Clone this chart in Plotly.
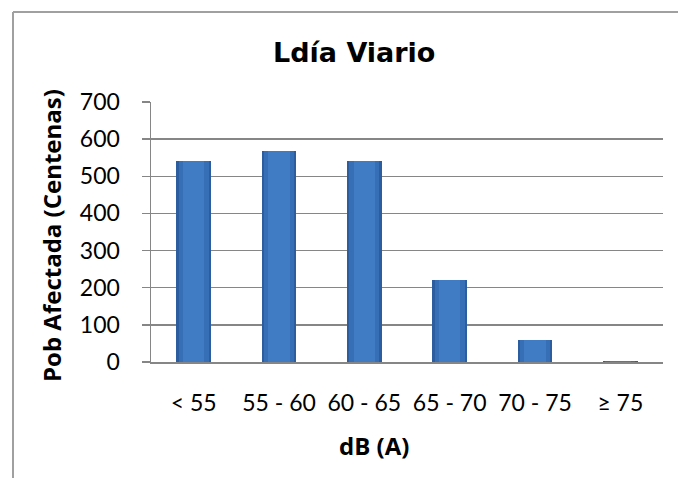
import plotly.graph_objects as go

categories = ["< 55", "55 - 60", "60 - 65", "65 - 70", "70 - 75", "≥ 75"]
values = [541, 569, 542, 222, 58, 4]
y_ticks = [0, 100, 200, 300, 400, 500, 600, 700]

W, H = 678, 478
L, R, T, B = 151, 663, 102, 362
pw, ph = R - L, B - T

def px_x(x):
    return (x - L) / pw

def px_y(y):
    return (B - y) / ph

fig = go.Figure()
# cylinder-like shading via layered bars
fig.add_trace(go.Bar(x=categories, y=values, width=0.41, marker=dict(color="#2b5d9f", line=dict(width=0)), hoverinfo="skip", showlegend=False))
fig.add_trace(go.Bar(x=categories, y=values, width=0.35, marker=dict(color="#376fb6", line=dict(width=0)), hoverinfo="skip", showlegend=False))
fig.add_trace(go.Bar(x=categories, y=values, width=0.25, marker=dict(color="#3f7cc4", line=dict(width=0)), showlegend=False))

tick_font = "Lato, 'Open Sans', sans-serif"
label_font = "'Open Sans', Lato, sans-serif"
grid = "#868686"

fig.update_layout(
    width=W, height=H,
    margin=dict(l=L, r=W - R, t=T, b=H - B, pad=0),
    paper_bgcolor="white", plot_bgcolor="white",
    barmode="overlay", bargap=0,
    showlegend=False,
    font=dict(family=tick_font, size=23, color="black"),
    xaxis=dict(
        showgrid=False, showline=True, linecolor=grid, linewidth=1.5,
        ticks="", tickfont=dict(size=23, family=tick_font), ticklabelstandoff=20,
        zeroline=False,
    ),
    yaxis=dict(
        range=[0, 700], tickvals=y_ticks, showgrid=True, gridcolor=grid, gridwidth=1.5,
        showline=True, linecolor=grid, linewidth=1.5, ticks="outside", ticklen=8,
        tickcolor=grid, tickwidth=1.5, tickfont=dict(size=23, family=tick_font), ticklabelstandoff=17,
        zeroline=False,
    ),
    shapes=[
        dict(type="line", xref="paper", yref="paper", x0=px_x(13), x1=px_x(680), y0=px_y(12), y1=px_y(12), line=dict(color="#a0a0a0", width=2)),
        dict(type="line", xref="paper", yref="paper", x0=px_x(13), x1=px_x(13), y0=px_y(12), y1=px_y(480), line=dict(color="#a0a0a0", width=2)),
    ],
    annotations=[
        dict(text="<b>Ldía Viario</b>", xref="paper", yref="paper", x=px_x(354), y=px_y(52), showarrow=False, font=dict(size=27, family="'DejaVu Sans', sans-serif"), xanchor="center", yanchor="middle"),
        dict(text="<b>dB (A)</b>", xref="paper", yref="paper", x=px_x(374), y=px_y(445), showarrow=False, font=dict(size=24, family=label_font), xanchor="center", yanchor="middle"),
        dict(text="<b>Pob Afectada (Centenas)</b>", xref="paper", yref="paper", x=px_x(51), y=px_y(236), showarrow=False, textangle=-90, font=dict(size=24, family=label_font), xanchor="center", yanchor="middle"),
    ],
)

fig.write_html(
    "out.html",
    config={"displayModeBar": False, "staticPlot": True},
    post_script="document.body.style.margin='0px';document.body.style.overflow='hidden';document.documentElement.style.overflow='hidden';",
)
